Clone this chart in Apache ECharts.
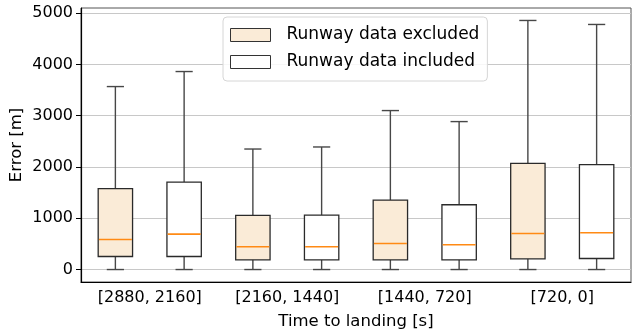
<!DOCTYPE html>
<html>
<head>
<meta charset="utf-8">
<script src="https://cdn.jsdelivr.net/npm/echarts@6/dist/echarts.min.js"></script>
<style>
html,body{margin:0;padding:0;background:#fff;}
#chart{width:632px;height:334px;}
</style>
</head>
<body>
<div id="chart"></div>
<script>
// ---- data ----
var categories = ['[2880, 2160]', '[2160, 1440]', '[1440, 720]', '[720, 0]'];
var seriesNames = ['Runway data excluded', 'Runway data included'];
var yTicks = [0, 1000, 2000, 3000, 4000, 5000];

var excludedMin    = [0, 0, 0, 0];
var excludedQ1     = [254, 189, 189, 208];
var excludedMedian = [586, 443, 508, 703];
var excludedQ3     = [1576, 1055, 1354, 2070];
var excludedMax    = [3568, 2350, 3100, 4857];

var includedMin    = [0, 0, 0, 0];
var includedQ1     = [254, 189, 189, 215];
var includedMedian = [690, 443, 482, 716];
var includedQ3     = [1706, 1061, 1263, 2045];
var includedMax    = [3861, 2390, 2885, 4779];

function buildRows(mn, q1, med, q3, mx) {
  return categories.map(function (c, i) { return [i, mn[i], q1[i], med[i], q3[i], mx[i]]; });
}

var FONT = 'DejaVu Sans';
var fills = ['#FAEBD7', '#FFFFFF'];
var offsets = [-0.25, 0.25];

function makeRender(idx) {
  return function (params, api) {
    var cat = api.value(0);
    var band = api.size([1, 0])[0];
    var w = band * 0.25;
    var cx = api.coord([cat, 0])[0] + offsets[idx] * band;
    var yMin = api.coord([cat, api.value(1)])[1];
    var yQ1 = api.coord([cat, api.value(2)])[1];
    var yMed = api.coord([cat, api.value(3)])[1];
    var yQ3 = api.coord([cat, api.value(4)])[1];
    var yMax = api.coord([cat, api.value(5)])[1];
    var wStyle = { stroke: '#474747', lineWidth: 1.4 };
    return {
      type: 'group',
      children: [
        { type: 'line', shape: { x1: cx, y1: yQ1, x2: cx, y2: yMin }, style: wStyle },
        { type: 'line', shape: { x1: cx, y1: yQ3, x2: cx, y2: yMax }, style: wStyle },
        { type: 'line', shape: { x1: cx - w / 4, y1: yMin, x2: cx + w / 4, y2: yMin }, style: wStyle },
        { type: 'line', shape: { x1: cx - w / 4, y1: yMax, x2: cx + w / 4, y2: yMax }, style: wStyle },
        { type: 'rect', shape: { x: cx - w / 2, y: yQ3, width: w, height: yQ1 - yQ3 },
          style: { fill: fills[idx], stroke: '#2a2a2a', lineWidth: 1.3 } },
        { type: 'line', shape: { x1: cx - w / 2 + 0.7, y1: yMed, x2: cx + w / 2 - 0.7, y2: yMed },
          style: { stroke: '#ff8a14', lineWidth: 1.6 } }
      ]
    };
  };
}

var chart = echarts.init(document.getElementById('chart'), null, { renderer: 'canvas' });
chart.setOption({
  animation: false,
  backgroundColor: '#fff',
  grid: { left: 81, right: 1, top: 8, bottom: 52, show: true, borderColor: '#555', borderWidth: 1,
          containLabel: false, outerBoundsMode: 'none' },
  legend: {
    orient: 'vertical',
    left: 223, top: 17,
    padding: [8, 8, 9, 7],
    itemWidth: 40, itemHeight: 13, itemGap: 7,
    backgroundColor: 'rgba(255,255,255,0.85)',
    borderColor: '#d6d6d6', borderWidth: 1, borderRadius: 4,
    textStyle: { fontFamily: FONT, fontSize: 17, color: '#000', lineHeight: 20, padding: [0, 0, 0, 11] },
    data: [
      { name: seriesNames[0], icon: 'rect', itemStyle: { color: fills[0], borderColor: '#333', borderWidth: 1 } },
      { name: seriesNames[1], icon: 'rect', itemStyle: { color: fills[1], borderColor: '#333', borderWidth: 1 } }
    ]
  },
  xAxis: {
    type: 'category',
    data: categories,
    boundaryGap: true,
    name: 'Time to landing [s]',
    nameLocation: 'middle',
    nameGap: 31,
    nameMoveOverlap: false,
    nameTextStyle: { fontFamily: FONT, fontSize: 16.5, color: '#000' },
    axisLine: { onZero: false, lineStyle: { color: '#000', width: 1.2 } },
    axisTick: { alignWithLabel: true, length: 5, lineStyle: { color: '#000' } },
    axisLabel: { fontFamily: FONT, fontSize: 16, color: '#000', margin: 8 },
    splitLine: { show: false }
  },
  yAxis: {
    type: 'value',
    min: -243, max: 5100,
    name: 'Error [m]',
    nameLocation: 'middle',
    nameGap: 56,
    nameMoveOverlap: false,
    nameTextStyle: { fontFamily: FONT, fontSize: 16.5, color: '#000' },
    axisLine: { show: true, lineStyle: { color: '#000', width: 1.2 } },
    axisTick: { show: true, length: 5, customValues: yTicks, lineStyle: { color: '#000' } },
    axisLabel: { fontFamily: FONT, fontSize: 16, color: '#000', margin: 8, customValues: yTicks,
                 formatter: function (v) { return String(v); } },
    splitLine: { show: true, lineStyle: { color: '#c8c8c8', width: 1.2 } }
  },
  series: [
    { name: seriesNames[0], type: 'custom', renderItem: makeRender(0),
      itemStyle: { color: fills[0], borderColor: '#333' },
      encode: { x: 0, y: [1, 2, 3, 4, 5] },
      data: buildRows(excludedMin, excludedQ1, excludedMedian, excludedQ3, excludedMax) },
    { name: seriesNames[1], type: 'custom', renderItem: makeRender(1),
      itemStyle: { color: fills[1], borderColor: '#333' },
      encode: { x: 0, y: [1, 2, 3, 4, 5] },
      data: buildRows(includedMin, includedQ1, includedMedian, includedQ3, includedMax) }
  ]
});
</script>
</body>
</html>
